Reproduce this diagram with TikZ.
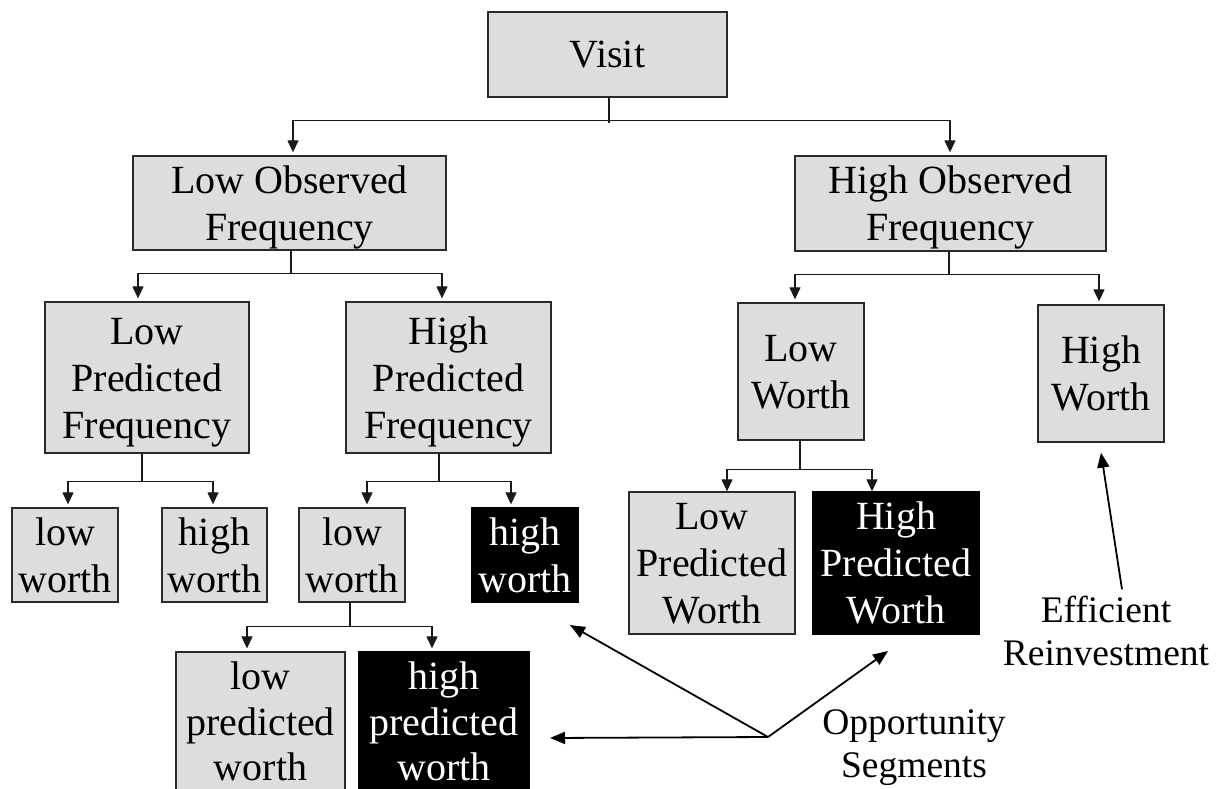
\documentclass[tikz,border=0pt]{standalone}
\usepackage{fontspec}
\setmainfont{Liberation Serif}
\usetikzlibrary{arrows.meta,calc}
\definecolor{boxgray}{HTML}{DDDDDD}
\definecolor{edgegray}{HTML}{2A2A2A}
\newcommand{\wst}{\rule[-0.216em]{0pt}{1.107em}}
\newcommand{\topst}{\rule{0pt}{29pt}}
\begin{document}
\begin{tikzpicture}[x=1pt,y=-1pt,
  box/.style={draw=edgegray, line width=1.3pt, fill=boxgray, inner sep=0pt, align=center,
              font=\fontsize{40}{47}\selectfont},
  dark/.style={box, fill=black, draw=black, text=white},
  conn/.style={draw=black!90, line width=1.2pt},
  arr/.style={conn, -{Triangle[length=12pt,width=11pt]}, shorten >=3pt},
  arrz/.style={conn, -{Triangle[length=12pt,width=11pt]}},
  oarr/.style={draw=black, line width=1.8pt, -{Triangle[length=15pt,width=12pt]}},
  lbl/.style={inner sep=0pt, align=center, font=\fontsize{37.5}{38}\selectfont}
]
\useasboundingbox (0,0) rectangle (1216,789);

% boxes
\node[box, minimum width=239pt, minimum height=85pt] (visit) at (607.5,54.5) {\wst Visit};
\node[box, minimum width=313pt, minimum height=94pt] (lof) at (289.5,203) {\wst Low Observed\\\wst Frequency};
\node[box, minimum width=311pt, minimum height=95pt] (hof) at (950.5,203.5) {\wst High Observed\\\wst Frequency};
\node[box, minimum width=204pt, minimum height=151pt] (lpf) at (147,377.5) {\wst Low\\\wst Predicted\\\wst Frequency};
\node[box, minimum width=205pt, minimum height=151pt] (hpf) at (448.5,377.5) {\wst High\\\wst Predicted\\\wst Frequency};
\node[box, minimum width=106pt, minimum height=94pt] (lw1) at (65,555) {\wst low\\\wst worth};
\node[box, minimum width=105pt, minimum height=94pt] (hw1) at (214.5,555) {\wst high\\\wst worth};
\node[box, minimum width=106pt, minimum height=94pt] (lw2) at (352,555) {\wst low\\\wst worth};
\node[dark, minimum width=106pt, minimum height=94pt] (hw2) at (525,555) {\wst high\\\wst worth};
\node[box, minimum width=126pt, minimum height=137pt] (lwo) at (801,371.5) {\wst Low\\\wst Worth};
\node[box, minimum width=126pt, minimum height=137pt] (hwo) at (1101,373.5) {\wst High\\\wst Worth};
\node[box, minimum width=166pt, minimum height=142pt] (lpw) at (712,563) {\wst Low\\\wst Predicted\\\wst Worth};
\node[dark, minimum width=166pt, minimum height=142pt] (hpw) at (896,563) {\wst High\\\wst Predicted\\\wst Worth};
\node[box, minimum width=169pt, minimum height=138pt, font=\fontsize{40}{45.5}\selectfont] (lpw2) at (260.5,721) {\topst low\\predicted\\worth};
\node[dark, minimum width=170pt, minimum height=138pt, font=\fontsize{40}{45.5}\selectfont] (hpw2) at (444,721) {\topst high\\predicted\\worth};

% labels
\node[lbl] (opp) at (914,743.3) {\wst Opportunity\\\wst Segments};
\node[lbl, font=\fontsize{37.5}{43}\selectfont] (eff) at (1106,631.8) {\wst Efficient\\\wst Reinvestment};

% tree connectors
\draw[conn] ([xshift=1.5pt]visit.south) -- ++(0,25);
\coordinate (jv) at ($([xshift=1.5pt]visit.south)+(0,23)$);
\draw[arr] (jv) -| ([xshift=3.5pt]lof.north);
\draw[arr] (jv) -| ([xshift=-0.5pt]hof.north);

\draw[conn] ([xshift=1.5pt]lof.south) -- ++(0,23) coordinate (jlof);
\draw[arr] (jlof) -| ([xshift=-9pt]lpf.north);
\draw[arr] (jlof) -| ([xshift=-6.5pt]hpf.north);

\draw[conn] ([xshift=-1.5pt]hof.south) -- ++(0,23) coordinate (jhof);
\draw[arr] (jhof) -| ([xshift=-6pt]lwo.north);
\draw[arr] (jhof) -| ([xshift=-2pt]hwo.north);

\draw[conn] ([xshift=-5pt]lpf.south) -- ++(0,28) coordinate (jlpf);
\draw[arr] (jlpf) -| ([xshift=3pt]lw1.north);
\draw[arr] (jlpf) -| ([xshift=-1.5pt]hw1.north);

\draw[conn] ([xshift=-9.5pt]hpf.south) -- ++(0,28) coordinate (jhpf);
\draw[arr] (jhpf) -| ([xshift=15pt]lw2.north);
\draw[arr] (jhpf) -| ([xshift=-14pt]hw2.north);

\draw[conn] ([xshift=-1pt]lwo.south) -- ++(0,29) coordinate (jlwo);
\draw[arrz] (jlwo) -| ([xshift=15pt]lpw.north);
\draw[arrz] (jlwo) -| ([xshift=-24pt]hpw.north);

\draw[conn] ([xshift=-2pt]lw2.south) -- ++(0,24) coordinate (jlw2);
\draw[arr] (jlw2) -| ([xshift=-13.5pt]lpw2.north);
\draw[arr] (jlw2) -| ([xshift=-12pt]hpw2.north);

% annotation arrows
\coordinate (oc) at (768,737);
\coordinate (tA) at (570,625);
\coordinate (tB) at (550,738);
\coordinate (tC) at (888,651);
\draw[oarr] (oc) -- (tA);
\draw[oarr] (oc) -- (tB);
\draw[oarr] (oc) -- (tC);
\draw[oarr] ([xshift=16pt]eff.north) -- ([yshift=-10pt]hwo.south);
\end{tikzpicture}
\end{document}
